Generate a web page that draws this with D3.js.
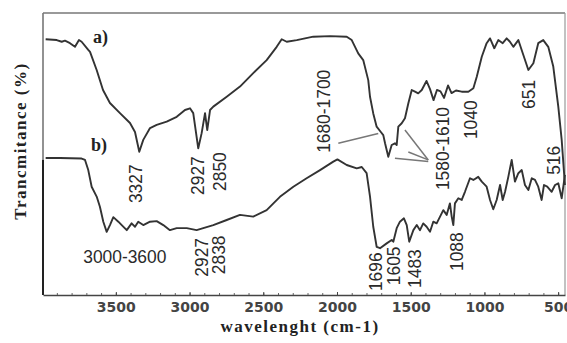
<!DOCTYPE html>
<html>
<head>
<meta charset="utf-8">
<script src="https://cdn.jsdelivr.net/npm/d3@7"></script>
<style>
  body { margin: 0; background: #fff; }
  svg { display: block; }
</style>
</head>
<body>
<div id="chart"></div>
<script>
// Spectrum a) : wavenumber (cm-1) and transmittance (%)
var waveA = [3976,3901,3867,3845,3811,3777,3750,3732,3687,3675,3630,3587,3540,3472,3404,3370,3341,3314,3268,3223,
  3155,3087,3031,2997,2975,2941,2918,2895,2880,2861,2839,2748,2658,2568,2477,2409,2375,2341,2273,2161,
  2047,1934,1900,1856,1822,1788,1776,1754,1731,1704,1686,1674,1652,1629,1607,1595,1584,1561,1539,1516,
  1493,1471,1449,1425,1393,1369,1345,1322,1298,1274,1247,1223,1193,1154,1109,1075,1052,1018,985,962,
  933,906,876,849,827,804,770,736,702,668,635,601,567,533,499,476,454];
var transA = [90.7,90.4,89.8,90.2,89.3,88.0,90.4,89.8,86.9,86.2,79.8,72.7,68.1,64.5,61.0,57.8,50.8,55.0,59.2,60.3,
  61.5,63.2,65.6,66.2,64.5,52.0,57.4,64.5,58.5,65.6,66.8,70.3,73.9,78.7,83.3,88.0,90.7,89.8,90.4,91.6,
  91.8,91.6,90.4,85.7,83.3,76.2,70.3,64.4,59.7,57.9,56.7,53.8,49.0,53.2,53.8,53.2,59.7,60.9,62.7,68.0,
  72.7,72.1,71.5,72.7,75.9,73.0,69.1,72.7,72.2,69.9,74.3,71.6,72.5,72.1,72.1,73.3,77.4,84.5,89.3,91.0,
  87.5,90.4,89.3,91.0,89.8,88.0,90.4,85.1,79.8,82.2,89.3,90.4,88.0,81.0,66.8,55.0,39.0];

// Spectrum b)
var waveB = [3976,3879,3732,3709,3687,3664,3630,3608,3585,3562,3540,3517,3483,3460,3426,3393,3370,3348,3314,3268,
  3223,3178,3133,3087,3019,2952,2907,2839,2748,2658,2568,2477,2387,2296,2206,2115,2025,1997,1934,1866,
  1832,1799,1776,1754,1731,1708,1663,1629,1618,1595,1573,1546,1527,1510,1482,1459,1437,1415,1392,1369,
  1347,1324,1301,1279,1256,1234,1222,1211,1200,1177,1154,1132,1098,1075,1042,1018,985,962,940,917,
  894,876,860,838,815,793,770,747,725,702,679,657,635,612,596,574,544,521,499,476,454];
var transB = [48.6,48.6,48.4,47.9,44.3,38.4,34.9,31.3,26.0,22.4,24.8,27.6,26.0,24.8,23.0,25.4,24.2,26.0,24.8,26.0,
  26.2,24.8,23.0,23.7,23.7,23.0,23.7,24.8,26.6,28.4,27.8,30.1,34.8,38.4,41.4,44.3,47.3,48.1,46.1,44.9,
  45.4,43.2,34.9,24.2,17.1,16.6,18.3,19.5,18.9,23.7,26.0,27.2,24.8,18.9,23.0,24.8,23.0,25.4,24.2,22.4,
  26.0,25.4,27.8,30.1,28.4,32.5,27.8,24.8,32.5,34.3,33.7,36.6,41.4,40.8,41.9,40.2,38.4,33.7,30.4,33.7,
  39.0,33.7,36.6,41.9,47.9,40.2,43.2,44.3,39.0,37.2,41.4,40.8,38.4,33.7,39.0,38.4,36.6,39.0,39.6,34.3,42.6];

var tickValues = [3500, 3000, 2500, 2000, 1500, 1000, 500];

// Vertical peak labels (anchored at bottom centre)
var peakText  = ["3327","2927","2850","1680-1700","1580-1610","1040","651","516","2927","2838","1696","1605","1483","1088"];
var peakWave  = [3370, 2946, 2800, 2095, 1288, 1098, 704, 531, 2922, 2807, 1742, 1620, 1474, 1189];
var peakTrans = [32.6, 35.5, 36.9, 50.4, 37.2, 55.3, 66.0, 42.6, 6.5, 7.4, 1.4, 3.5, 2.5, 8.5];

// Leader lines for the band ranges
var leaderFrom = [[1991, 53.8], [1539, 58.5], [1516, 50.7], [1607, 48.5]];
var leaderTo   = [[1720, 57.3], [1381, 47.9], [1381, 47.9], [1381, 47.3]];

var w = 567, h = 343;
var margin = {top: 13, right: 565, bottom: 295, left: 43};

var x = d3.scaleLinear().domain([3994, 453.5]).range([margin.left, margin.right]);
var y = d3.scaleLinear().domain([0, 100]).range([margin.bottom, margin.top]);

var svg = d3.select("#chart").append("svg")
    .attr("width", w)
    .attr("height", h);

// frame
svg.append("line").attr("x1", margin.left).attr("x2", margin.right).attr("y1", margin.top).attr("y2", margin.top)
    .attr("stroke", "#777").attr("stroke-width", 1.4);
svg.append("line").attr("x1", margin.right).attr("x2", margin.right).attr("y1", margin.top).attr("y2", margin.bottom)
    .attr("stroke", "#999").attr("stroke-width", 1.2);
svg.append("line").attr("x1", margin.left).attr("x2", margin.left).attr("y1", margin.top).attr("y2", y(48))
    .attr("stroke", "#777").attr("stroke-width", 1.6);
svg.append("line").attr("x1", margin.left).attr("x2", margin.left).attr("y1", y(48)).attr("y2", margin.bottom)
    .attr("stroke", "#222").attr("stroke-width", 2);

// minor ticks every 100 cm-1
svg.append("g")
    .attr("transform", "translate(0," + margin.bottom + ")")
    .call(d3.axisBottom(x).tickValues(d3.range(500, 4000, 100)).tickSize(-2).tickFormat(""))
    .call(function(g) {
        g.select(".domain").remove();
        g.selectAll("line").attr("stroke", "#666");
    });

// main axis
var xAxis = svg.append("g")
    .attr("transform", "translate(0," + margin.bottom + ")")
    .call(d3.axisBottom(x).tickValues(tickValues).tickFormat(d3.format("d"))
        .tickSize(-3).tickSizeOuter(0).tickPadding(7));
xAxis.select(".domain").attr("stroke", "#444").attr("stroke-width", 1.5);
xAxis.selectAll(".tick line").attr("stroke", "#444");
xAxis.selectAll("text")
    .attr("fill", "#444")
    .style("font-family", "'DejaVu Sans', Verdana, sans-serif")
    .style("font-weight", "bold")
    .style("font-size", "14px");

// spectra
var line = d3.line()
    .x(function(d) { return x(d[0]); })
    .y(function(d) { return y(d[1]); });

[[waveA, transA], [waveB, transB]].forEach(function(s) {
    svg.append("path")
        .datum(d3.zip(s[0], s[1]))
        .attr("d", line)
        .attr("fill", "none")
        .attr("stroke", "#333")
        .attr("stroke-width", 1.9)
        .attr("stroke-linejoin", "round");
});

// leader lines
svg.selectAll("line.leader")
    .data(d3.zip(leaderFrom, leaderTo))
    .enter()
    .append("line")
    .attr("class", "leader")
    .attr("x1", function(d) { return x(d[0][0]); })
    .attr("y1", function(d) { return y(d[0][1]); })
    .attr("x2", function(d) { return x(d[1][0]); })
    .attr("y2", function(d) { return y(d[1][1]); })
    .attr("stroke", "#777")
    .attr("stroke-width", 1.5);

// peak labels
var labelFont = "'Liberation Sans', Arial, sans-serif";
svg.selectAll("text.peak")
    .data(d3.zip(peakText, peakWave, peakTrans))
    .enter()
    .append("text")
    .attr("class", "peak")
    .attr("transform", function(d) {
        return "translate(" + (x(d[1]) + 6.6) + "," + y(d[2]) + ") rotate(-90) scale(0.94,1)";
    })
    .attr("fill", "#2a2a2a")
    .style("font-family", labelFont)
    .style("font-size", "18.5px")
    .text(function(d) { return d[0]; });

svg.append("text")
    .attr("transform", "translate(" + x(3721) + "," + y(11.5) + ") scale(0.94,1)")
    .attr("fill", "#2a2a2a")
    .style("font-family", labelFont)
    .style("font-size", "18.5px")
    .text("3000-3600");

// series labels
var serif = "'Liberation Serif', 'Times New Roman', serif";
[["a)", 3655, 89.4], ["b)", 3669, 51.1]].forEach(function(d) {
    svg.append("text")
        .attr("x", x(d[1]))
        .attr("y", y(d[2]))
        .attr("fill", "#222")
        .style("font-family", serif)
        .style("font-weight", "bold")
        .style("font-size", "18px")
        .text(d[0]);
});

// axis titles
svg.append("text")
    .attr("x", 300)
    .attr("y", 332)
    .attr("text-anchor", "middle")
    .attr("fill", "#222")
    .style("font-family", serif)
    .style("font-weight", "bold")
    .style("font-size", "17px")
    .style("letter-spacing", "1.5px")
    .text("wavelenght (cm-1)");

svg.append("text")
    .attr("transform", "translate(26,141) rotate(-90)")
    .attr("text-anchor", "middle")
    .attr("fill", "#222")
    .style("font-family", serif)
    .style("font-weight", "bold")
    .style("font-size", "17px")
    .style("letter-spacing", "1.5px")
    .text("Trancmitance (%)");
</script>
</body>
</html>
